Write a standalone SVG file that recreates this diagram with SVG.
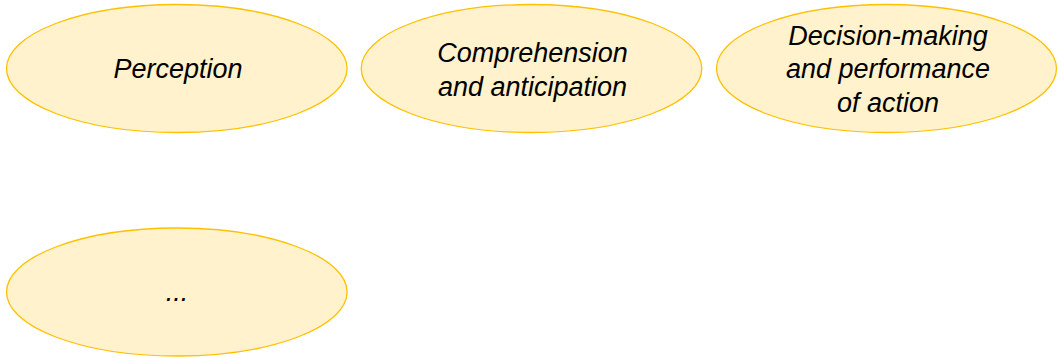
<svg xmlns="http://www.w3.org/2000/svg" width="1058" height="358" viewBox="0 0 1058 358">
<style>
.n{fill:#fff2cc;stroke:#ffc000;stroke-width:1.3}
.t{font-family:"Liberation Sans",Arial,sans-serif;font-style:italic;font-size:27px;fill:#000;text-anchor:middle}
</style>
<rect width="1058" height="358" fill="#ffffff"/>
<g id="connectors"></g>
<g id="perception">
<ellipse class="n" cx="176.8" cy="68.5" rx="170.3" ry="64"/>
<text class="t" x="178" y="77.5">Perception</text>
</g>
<g id="comprehension">
<ellipse class="n" cx="531.5" cy="68.5" rx="170.3" ry="64"/>
<text class="t" x="532.5" y="62.3">Comprehension</text>
<text class="t" x="532.5" y="95.7">and anticipation</text>
</g>
<g id="decision">
<ellipse class="n" cx="886.5" cy="68.5" rx="170" ry="64"/>
<text class="t" x="888" y="45">Decision-making</text>
<text class="t" x="888" y="78.3">and performance</text>
<text class="t" x="888" y="111.7">of action</text>
</g>
<g id="more">
<ellipse class="n" cx="176.8" cy="292" rx="170.3" ry="64"/>
<text class="t" x="177" y="300.5">...</text>
</g>
</svg>
